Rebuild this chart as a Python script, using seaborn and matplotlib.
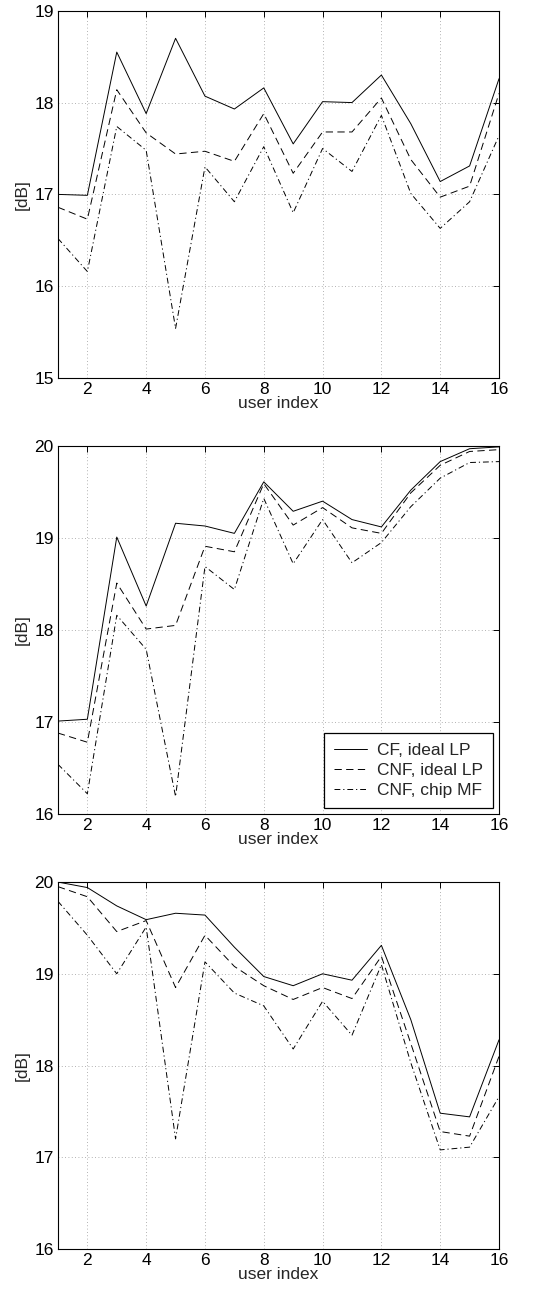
import numpy as np
import pandas as pd
import seaborn as sns
import matplotlib.pyplot as plt

# user index on the x axis
users = list(range(1, 17))

# panel 1 values [dB]
p1_cf_ideal = [17.00, 16.99, 18.55, 17.88, 18.70, 18.07, 17.93, 18.16, 17.55, 18.01, 18.00, 18.30, 17.77, 17.14, 17.31, 18.26]
p1_cnf_ideal = [16.86, 16.73, 18.14, 17.67, 17.44, 17.47, 17.36, 17.88, 17.23, 17.68, 17.68, 18.05, 17.38, 16.97, 17.09, 18.10]
p1_cnf_chip = [16.52, 16.16, 17.74, 17.48, 15.54, 17.30, 16.92, 17.52, 16.80, 17.50, 17.25, 17.86, 17.01, 16.63, 16.92, 17.64]

# panel 2 values [dB]
p2_cf_ideal = [17.01, 17.03, 19.01, 18.26, 19.16, 19.13, 19.05, 19.61, 19.29, 19.40, 19.20, 19.12, 19.52, 19.83, 19.97, 19.99]
p2_cnf_ideal = [16.88, 16.78, 18.51, 18.01, 18.05, 18.91, 18.85, 19.59, 19.14, 19.33, 19.11, 19.05, 19.49, 19.79, 19.94, 19.96]
p2_cnf_chip = [16.54, 16.22, 18.16, 17.79, 16.19, 18.69, 18.44, 19.43, 18.72, 19.20, 18.73, 18.95, 19.34, 19.65, 19.82, 19.83]

# panel 3 values [dB]
p3_cf_ideal = [20.00, 19.94, 19.74, 19.59, 19.66, 19.64, 19.29, 18.97, 18.87, 19.00, 18.93, 19.31, 18.50, 17.48, 17.44, 18.28]
p3_cnf_ideal = [19.95, 19.84, 19.46, 19.58, 18.85, 19.42, 19.08, 18.87, 18.72, 18.85, 18.73, 19.19, 18.24, 17.28, 17.23, 18.10]
p3_cnf_chip = [19.79, 19.42, 19.00, 19.51, 17.20, 19.13, 18.79, 18.65, 18.18, 18.70, 18.33, 19.10, 18.03, 17.08, 17.11, 17.66]

labels = ['CF, ideal LP', 'CNF, ideal LP', 'CNF, chip MF']
styles = ['-', (0, (7.5, 4.5)), (0, (6, 3, 1.2, 3))]

panels = [
    ([p1_cf_ideal, p1_cnf_ideal, p1_cnf_chip], (15, 19), [15, 16, 17, 18, 19]),
    ([p2_cf_ideal, p2_cnf_ideal, p2_cnf_chip], (16, 20), [16, 17, 18, 19, 20]),
    ([p3_cf_ideal, p3_cnf_ideal, p3_cnf_chip], (16, 20), [16, 17, 18, 19, 20]),
]

sns.set_style("white")
plt.rcParams['font.family'] = ['Liberation Sans', 'DejaVu Sans']
fs = 12.5

fig = plt.figure(figsize=(5.52, 12.96), dpi=100)
boxes = [
    [0.105, 0.7083, 0.799, 0.2834],
    [0.105, 0.3719, 0.799, 0.2840],
    [0.105, 0.0363, 0.799, 0.2831],
]

for i, (series, ylim, yticks) in enumerate(panels):
    ax = fig.add_axes(boxes[i])
    for vals, ls, lab in zip(series, styles, labels):
        sns.lineplot(x=users, y=vals, ax=ax, color='k', linestyle=ls,
                     linewidth=0.7, label=lab if i == 1 else None)
    ax.set_xlim(1, 16)
    ax.set_ylim(*ylim)
    ax.set_xticks(range(2, 17, 2))
    ax.set_yticks(yticks)
    ax.grid(True, linestyle=(0, (1, 3)), color='#999999', linewidth=0.6)
    ax.tick_params(direction='in', length=4, width=0.7, top=True, right=True,
                   labelsize=fs, colors='k', pad=3)
    for s in ax.spines.values():
        s.set_color('k')
        s.set_linewidth(0.8)
    ax.set_xlabel('user index', fontsize=fs, labelpad=-1)
    ax.set_ylabel('[dB]', fontsize=fs, labelpad=3)
    if i == 1:
        leg = ax.legend(loc='lower right', frameon=True, fancybox=False,
                        fontsize=fs, borderaxespad=0.35, handlelength=1.9,
                        labelspacing=0.3, borderpad=0.55, handletextpad=0.6)
        leg.get_frame().set_edgecolor('k')
        leg.get_frame().set_linewidth(0.9)
        leg.get_frame().set_alpha(1)
    elif ax.get_legend() is not None:
        ax.get_legend().remove()

fig.savefig('out.png', dpi=100)
